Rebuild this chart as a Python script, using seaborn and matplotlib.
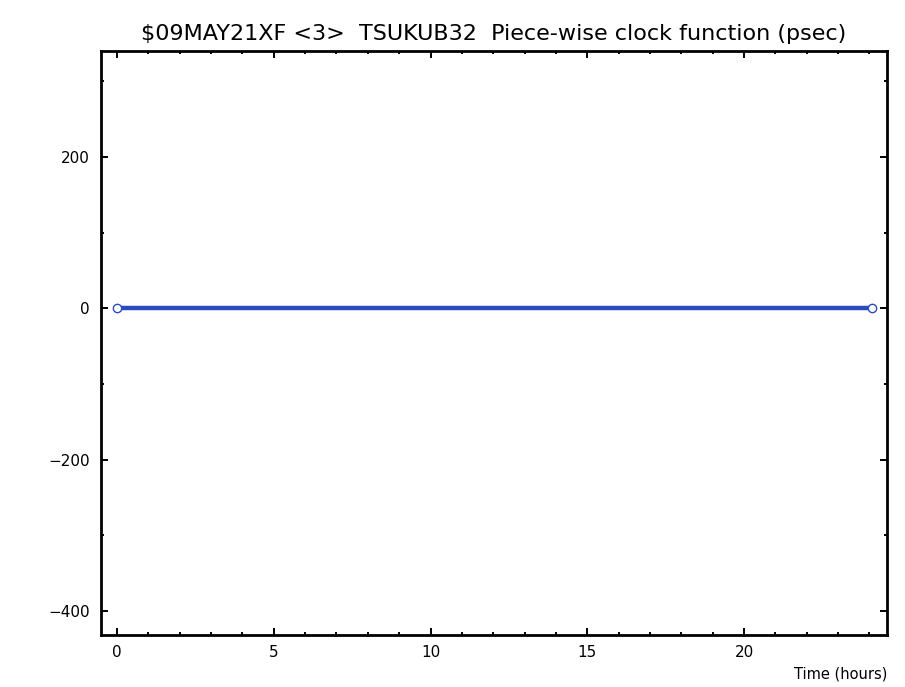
import pandas as pd
import matplotlib
matplotlib.use("Agg")
import matplotlib.pyplot as plt
import seaborn as sns
from matplotlib.ticker import MultipleLocator

# data
time_hours = [0.0, 24.07]
clock_psec = [0.0, 0.0]

title = "$09MAY21XF <3>  TSUKUB32  Piece-wise clock function (psec)"
xlabel = "Time (hours)"

df = pd.DataFrame({"time": time_hours, "clock": clock_psec})

sns.set_style("white")
plt.rcParams["font.family"] = ["DejaVu Sans"]
plt.rcParams["text.color"] = "black"
plt.rcParams["xtick.color"] = "black"
plt.rcParams["ytick.color"] = "black"

fig = plt.figure(figsize=(9.05, 6.87), dpi=100)
ax = fig.add_axes([101 / 905, 1 - 635 / 687, 786 / 905, 584 / 687])

sns.lineplot(data=df, x="time", y="clock", ax=ax, color="#2a4bba",
             linewidth=3.2, marker="o", markersize=6,
             markerfacecolor="white", markeredgecolor="#2a4bba",
             markeredgewidth=1.0)

ax.set_xlim(-0.51, 24.56)
ax.set_ylim(-431.7, 340)
ax.xaxis.set_major_locator(MultipleLocator(5))
ax.xaxis.set_minor_locator(MultipleLocator(1))
ax.yaxis.set_major_locator(MultipleLocator(200))
ax.yaxis.set_minor_locator(MultipleLocator(100))
ax.tick_params(which="both", direction="in", top=True, right=True,
               bottom=True, left=True, color="black", width=1.4)
ax.tick_params(which="major", length=5, labelsize=11, pad=7)
ax.tick_params(which="minor", length=2.5)
ax.tick_params(axis="y", which="major", pad=8)
for s in ax.spines.values():
    s.set_color("black")
    s.set_linewidth(2)

ax.set_xlabel("")
ax.set_ylabel("")
ax.set_title(title, fontsize=16, pad=8, color="black")
fig.text(887 / 905, 1 - 674 / 687, xlabel, ha="right", va="center",
         fontsize=10.5, color="black")

fig.savefig("out.png", dpi=100, facecolor="white")
